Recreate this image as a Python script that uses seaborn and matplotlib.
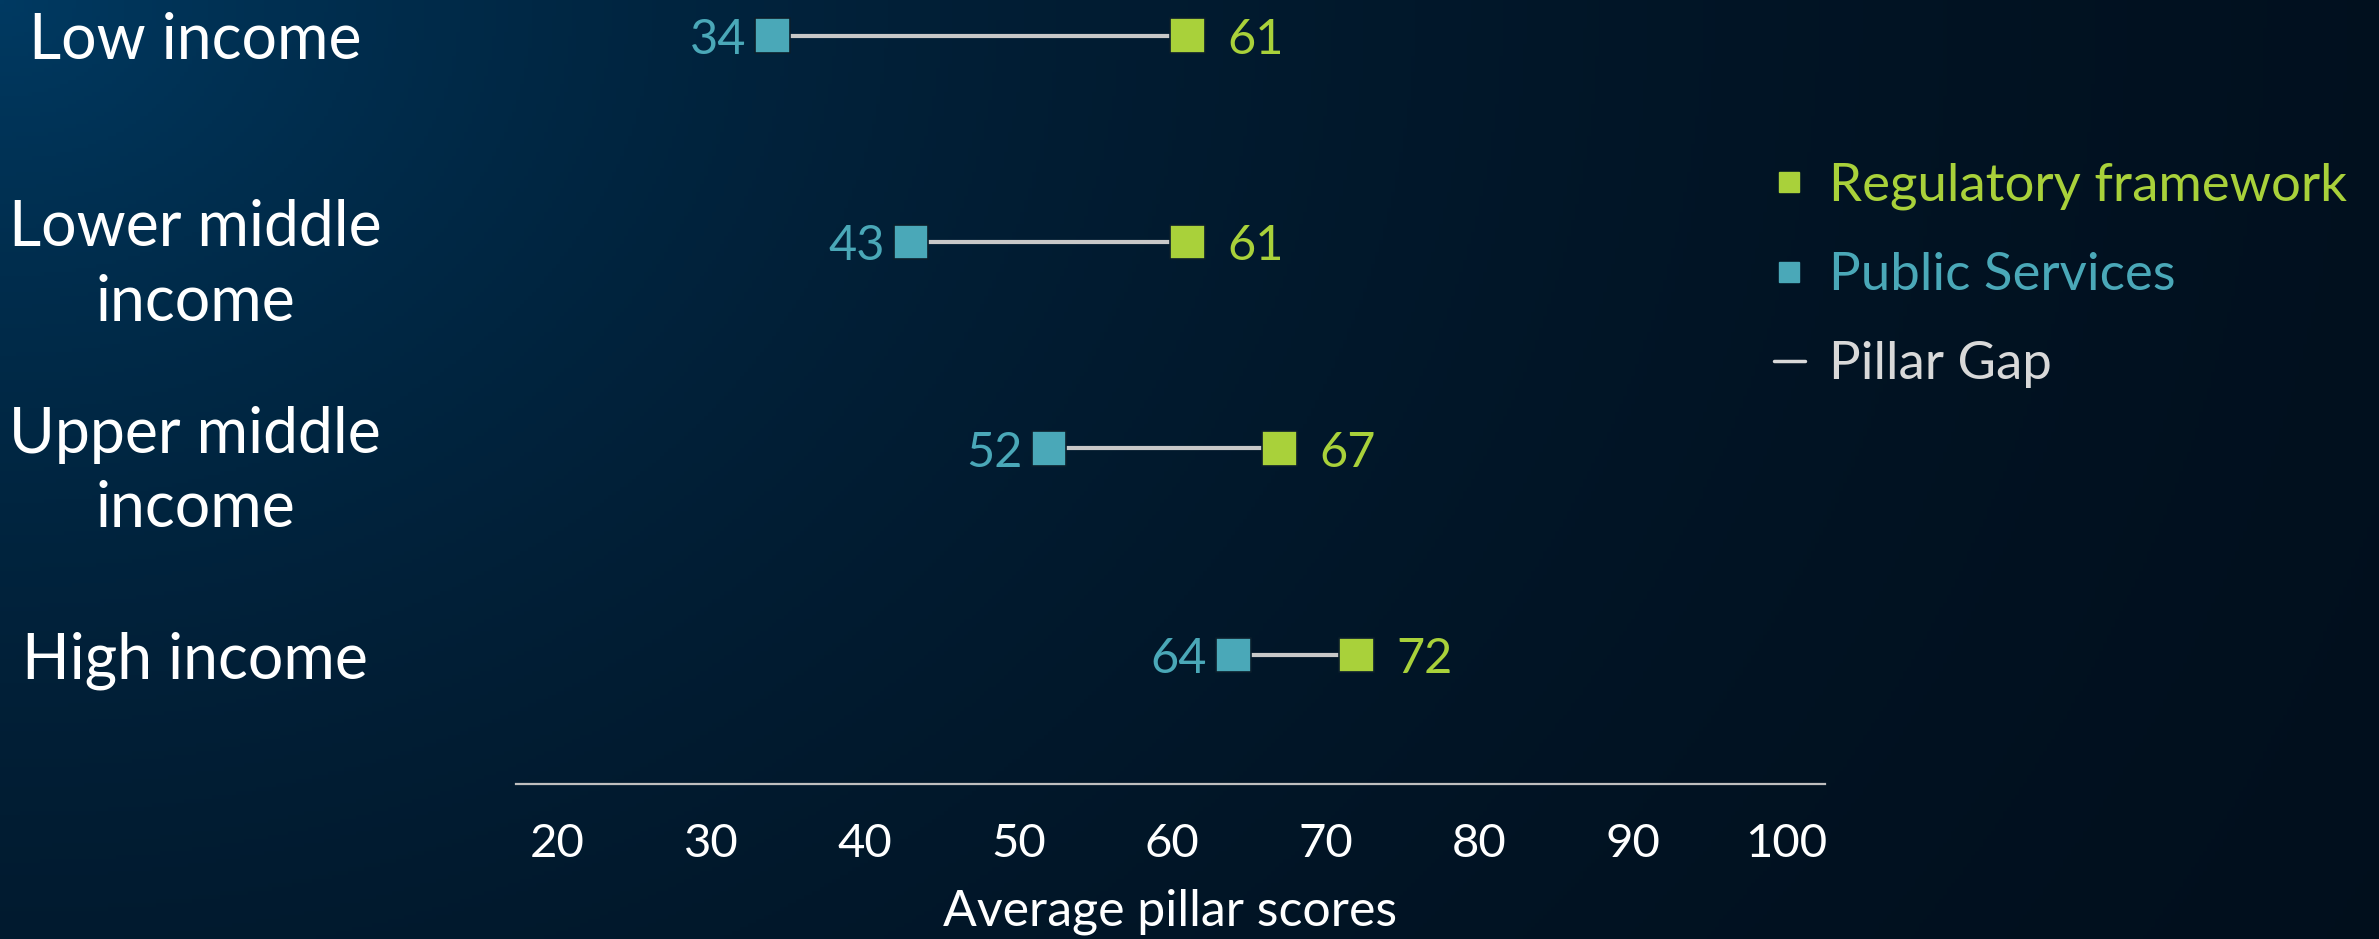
import numpy as np
import pandas as pd
import matplotlib
matplotlib.use("Agg")
import matplotlib.pyplot as plt
import matplotlib.transforms as mtransforms
import seaborn as sns
from matplotlib.lines import Line2D

# data
groups = ["Low income", "Lower middle\nincome", "Upper middle\nincome", "High income"]
public_services = [34, 43, 52, 64]
regulatory = [61, 61, 67, 72]
x_ticks = [20, 30, 40, 50, 60, 70, 80, 90, 100]

GREEN = "#a9d13a"
BLUE = "#4aa8b8"
GAP = "#c8c8c8"
EDGE = "#0b1e2c"

sns.set_theme(style="white")
plt.rcParams["font.family"] = ["Lato", "DejaVu Sans"]

W, H, DPI = 2379, 939, 100
fig = plt.figure(figsize=(W / DPI, H / DPI), dpi=DPI)

# background gradient (bright navy top-left fading to near-black)
bg = fig.add_axes([0, 0, 1, 1], zorder=-10)
yy, xx = np.mgrid[0:H:4, 0:W:4]
d = np.sqrt(xx ** 2 + (yy * 1.3) ** 2)
f = np.exp(-d / 1100.0)[..., None]
dark = np.array([2, 11, 22]) / 255
bright = np.array([0, 58, 98]) / 255
bg.imshow(dark + (bright - dark) * f, aspect="auto", extent=[0, 1, 0, 1])
bg.axis("off")

df = pd.DataFrame({"group": groups, "pos": range(len(groups)),
                   "Public Services": public_services,
                   "Regulatory framework": regulatory})
long = df.melt(id_vars=["group", "pos"], var_name="pillar", value_name="score")

ax = fig.add_axes([516 / W, 155 / H, (1825 - 516) / W, (H - 155) / H])
ax.set_facecolor("none")
ax.hlines(df["pos"], df["Public Services"], df["Regulatory framework"],
          color=GAP, lw=3, zorder=1)
sns.scatterplot(data=long, x="score", y="pos", hue="pillar",
                palette={"Public Services": BLUE, "Regulatory framework": GREEN},
                marker="s", s=620, edgecolor=EDGE, linewidth=1.2,
                legend=False, zorder=3, ax=ax)

for _, r in df.iterrows():
    ax.annotate(f"{r['Public Services']}", (r["Public Services"], r["pos"]),
                xytext=(-19, -3), textcoords="offset points", ha="right",
                va="center", color=BLUE, fontsize=35)
    ax.annotate(f"{r['Regulatory framework']}", (r["Regulatory framework"], r["pos"]),
                xytext=(29, -3), textcoords="offset points", ha="left",
                va="center", color=GREEN, fontsize=35)

ax.set_xlim(17.3, 102.5)
ax.set_ylim(3.625, -0.172)
ax.set_xticks(x_ticks)
ax.set_yticks(range(len(groups)))
ax.set_yticklabels(groups, ha="center", fontsize=45, color="white",
                   linespacing=1.35)
ax.tick_params(axis="y", length=0, pad=231)
ax.tick_params(axis="x", length=0, pad=28, labelsize=34, labelcolor="white")
ax.set_xlabel("Average pillar scores", fontsize=36, color="white", labelpad=17)
ax.set_ylabel("")
sns.despine(ax=ax, left=True)
ax.spines["bottom"].set_color("#bfbfbf")
ax.spines["bottom"].set_linewidth(1.6)

# two-line group labels sit a little lower than their row in the original
shift = mtransforms.ScaledTranslation(0, -7 / 72, fig.dpi_scale_trans)
for lab in ax.get_yticklabels():
    if "\n" in lab.get_text():
        lab.set_transform(lab.get_transform() + shift)

handles = [
    Line2D([], [], marker="s", ls="none", color=GREEN, markersize=14),
    Line2D([], [], marker="s", ls="none", color=BLUE, markersize=14),
    Line2D([], [], color="#d9d9d9", lw=2.5),
]
leg = fig.legend(handles, ["Regulatory framework", "Public Services", "Pillar Gap"],
                 loc="upper left", bbox_to_anchor=(1726 / W, 1 - 115 / H),
                 frameon=False, fontsize=38, handlelength=0.6,
                 handletextpad=0.45, labelspacing=0.8,
                 labelcolor=[GREEN, BLUE, "#d9d9d9"])

fig.savefig("out.png", dpi=DPI)
